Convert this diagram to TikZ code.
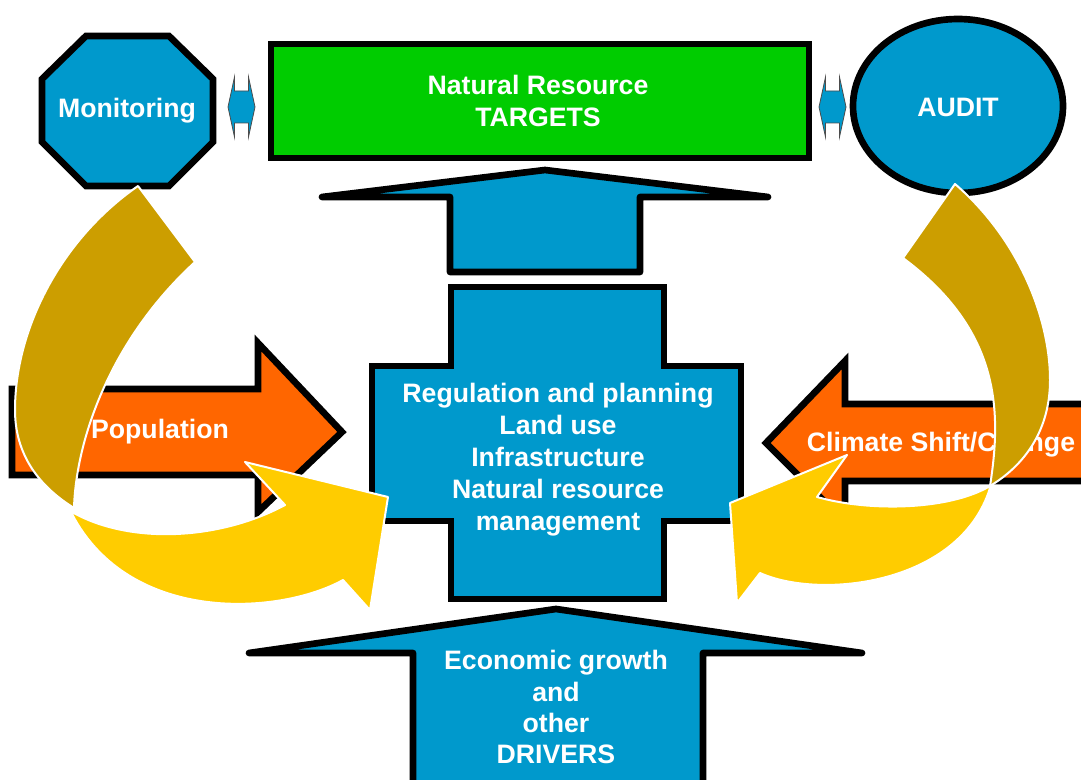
\documentclass[tikz,border=0pt]{standalone}
\usepackage{fontspec}
\setmainfont{Liberation Sans}
\definecolor{nrblue}{RGB}{0,153,204}
\definecolor{nrgreen}{RGB}{0,204,0}
\definecolor{nrorange}{RGB}{255,102,0}
\definecolor{nrgold}{RGB}{204,158,0}
\definecolor{nryellow}{RGB}{255,204,0}
\begin{document}
\begin{tikzpicture}[x=0.75pt, y=-0.75pt,
		lbl/.style={text=white, font=\fontsize{20}{24}\selectfont\bfseries, align=center},
		boxline/.style={draw=black, line width=5pt},
		ribbon/.style={draw=white, line width=1.5pt, line join=round}]
		\useasboundingbox (0,0) rectangle (1081,780);
		\clip (0,0) rectangle (1081,780);
		
		% side pressures
		\draw[boxline, fill=nrorange] (12,389) -- (258,389) -- (258,343) -- (342,432) -- (258,512) -- (258,475) -- (12,475) -- cycle;
		\node[lbl] (pop) at (160,432) {Population};
		\draw[boxline, fill=nrorange] (1100,404) -- (845,404) -- (845,361) -- (766,443) -- (845,522) -- (845,481) -- (1100,481) -- cycle;
		\node[lbl] (clim) at (941,445) {Climate Shift/Change};
		
		% top row
		\draw[boxline, fill=nrgreen] (271,44) rectangle (809,158);
		\node[lbl] (targets) at (538,101) {Natural Resource\\TARGETS};
		\draw[boxline, fill=nrblue] (86,36) -- (169,36) -- (213,79) -- (213,142) -- (169,186) -- (86,186) -- (42,142) -- (42,79) -- cycle;
		\node[lbl] (mon) at (127,111) {Monitoring};
		\draw[boxline, fill=nrblue] (958,106) ellipse [x radius=105, y radius=87];
		\node[lbl] (audit) at (958,107) {AUDIT};
		\foreach \cx/\name in {241.5/l, 832.5/r} {
			\coordinate (link\name) at (\cx,107);
			\draw[black!70, line width=0.6pt, fill=nrblue, shift={(link\name)}]
				(-13.5,0) -- (-7,-30) -- (-7,-16) -- (7,-16) -- (7,-30) -- (13.5,0)
				-- (7,30) -- (7,16) -- (-7,16) -- (-7,30) -- cycle;
		}
		
		% blue arrows and cross
		\draw[boxline, line join=round, fill=nrblue] (545,170) -- (768,197) -- (640,197) -- (640,272) -- (450,272) -- (450,197) -- (322,197) -- cycle;
		\draw[boxline, fill=nrblue] (451,287) -- (664,287) -- (664,366) -- (741,366) -- (741,521) -- (664,521) -- (664,599) -- (451,599) -- (451,521) -- (372,521) -- (372,366) -- (451,366) -- cycle;
		\node[lbl] (plan) at (558,460) {Regulation and planning\\Land use\\Infrastructure\\Natural resource\\management};
		\draw[boxline, line join=round, fill=nrblue] (556,609) -- (862,653) -- (703,653) -- (703,800) -- (413,800) -- (413,653) -- (249,653) -- cycle;
		\node[lbl, font=\fontsize{20}{23.3}\selectfont\bfseries] (drivers) at (556,707) {Economic growth\\and\\other\\DRIVERS};
		
		% feedback loops
		\draw[ribbon, fill=nrgold] (138,186) .. controls (60,240) and (15,330) .. (15,410)
			.. controls (15,460) and (45,490) .. (74,508)
			.. controls (76,440) and (110,340) .. (195,262) -- cycle;
		\draw[ribbon, fill=nryellow] (72,512) .. controls (130,545) and (220,540) .. (285,505)
			-- (245,462) -- (388,497) -- (370,610) -- (343,580)
			.. controls (280,615) and (130,625) .. (72,514) -- cycle;
		\draw[ribbon, fill=nrgold] (955,184) .. controls (1020,240) and (1050,320) .. (1050,380)
			.. controls (1050,430) and (1025,465) .. (990,486)
			.. controls (1002,410) and (1000,330) .. (903,258) -- cycle;
		\draw[ribbon, fill=nryellow] (990,486) .. controls (950,510) and (870,512) .. (817,497)
			-- (847,455) -- (730,503) -- (737,603) -- (760,573)
			.. controls (820,600) and (960,585) .. (990,488) -- cycle;
	\end{tikzpicture}
\end{document}
